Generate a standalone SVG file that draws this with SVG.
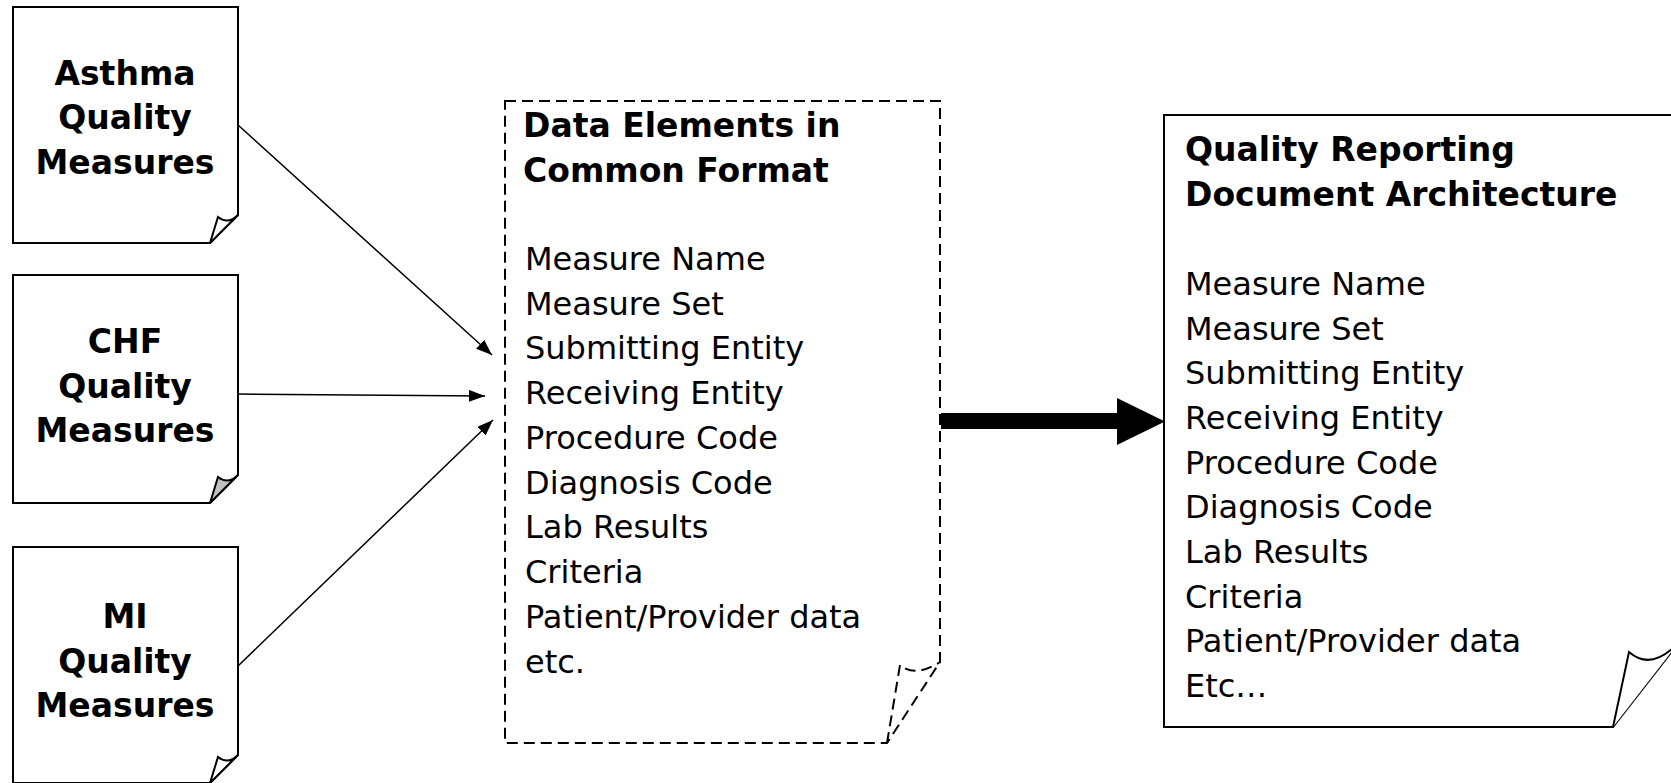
<svg xmlns="http://www.w3.org/2000/svg" width="1671" height="783" viewBox="0 0 1671 783">
<style>
.box{fill:#fff;stroke:#000;stroke-width:2;stroke-linejoin:miter}
.dash{fill:#fff;stroke:#000;stroke-width:2;stroke-dasharray:11 6}
.flap{fill:#fff;stroke:#000;stroke-width:2;stroke-linejoin:miter}
.flapg{fill:#c0c0c0;stroke:#000;stroke-width:2}
.flapd{fill:none;stroke:#000;stroke-width:2;stroke-dasharray:11 6}
.hb{font-family:"DejaVu Sans","Liberation Sans",sans-serif;font-weight:bold;font-size:33px;text-anchor:middle;fill:#000}
.tb{font-family:"DejaVu Sans","Liberation Sans",sans-serif;font-weight:bold;font-size:33px;fill:#000}
.tr{font-family:"DejaVu Sans","Liberation Sans",sans-serif;font-size:32px;fill:#000}
.conn{stroke:#000;stroke-width:1.5;fill:none}
</style>
<defs>
<marker id="ah" markerWidth="16" markerHeight="12" refX="16" refY="6" orient="auto" markerUnits="userSpaceOnUse">
<path d="M0,0 L16,6 L0,12 Z" fill="#000"/>
</marker>
</defs>
<rect width="1671" height="783" fill="#fff"/>
<g id="asthma">
<path class="box" d="M13,7 H238 V215 L210,243 H13 Z"/>
<path class="flap" d="M210,243 L218,217 Q228,225 238,215 Z"/>
<text class="hb" x="125" y="85">Asthma</text>
<text class="hb" x="125" y="129">Quality</text>
<text class="hb" x="125" y="174">Measures</text>
</g>
<g id="chf">
<path class="box" d="M13,275 H238 V475 L210,503 H13 Z"/>
<path class="flapg" d="M210,503 L218,477 Q228,485 238,475 Z"/>
<text class="hb" x="125" y="353">CHF</text>
<text class="hb" x="125" y="398">Quality</text>
<text class="hb" x="125" y="442">Measures</text>
</g>
<g id="mi">
<path class="box" d="M13,547 H238 V755 L210,783 H13 Z"/>
<path class="flap" d="M210,783 L218,757 Q228,765 238,755 Z"/>
<text class="hb" x="125" y="628">MI</text>
<text class="hb" x="125" y="673">Quality</text>
<text class="hb" x="125" y="717">Measures</text>
</g>
<g id="common">
<path class="dash" d="M505,101 H940 V662 L887,743 H505 Z"/>
<path class="flapd" d="M887,743 L900,665 Q915,678 940,662"/>
<text class="tb" x="523" y="137">Data Elements in</text>
<text class="tb" x="523" y="182">Common Format</text>
<text class="tr" x="525" y="270">Measure Name</text>
<text class="tr" x="525" y="315">Measure Set</text>
<text class="tr" x="525" y="359">Submitting Entity</text>
<text class="tr" x="525" y="404">Receiving Entity</text>
<text class="tr" x="525" y="449">Procedure Code</text>
<text class="tr" x="525" y="494">Diagnosis Code</text>
<text class="tr" x="525" y="538">Lab Results</text>
<text class="tr" x="525" y="583">Criteria</text>
<text class="tr" x="525" y="628">Patient/Provider data</text>
<text class="tr" x="525" y="673">etc.</text>
</g>
<g id="qrda">
<path class="box" d="M1164,115 H1680 V641 L1613,727 H1164 Z"/>
<path class="flap" d="M1613,727 L1629,652 Q1652,672 1680,641"/>
<text class="tb" x="1185" y="161">Quality Reporting</text>
<text class="tb" x="1185" y="206">Document Architecture</text>
<text class="tr" x="1185" y="295">Measure Name</text>
<text class="tr" x="1185" y="340">Measure Set</text>
<text class="tr" x="1185" y="384">Submitting Entity</text>
<text class="tr" x="1185" y="429">Receiving Entity</text>
<text class="tr" x="1185" y="474">Procedure Code</text>
<text class="tr" x="1185" y="518">Diagnosis Code</text>
<text class="tr" x="1185" y="563">Lab Results</text>
<text class="tr" x="1185" y="608">Criteria</text>
<text class="tr" x="1185" y="652">Patient/Provider data</text>
<text class="tr" x="1185" y="697">Etc…</text>
</g>
<g id="connectors">
<line class="conn" x1="238" y1="125" x2="492" y2="355" marker-end="url(#ah)"/>
<line class="conn" x1="238" y1="394" x2="485" y2="396" marker-end="url(#ah)"/>
<line class="conn" x1="238" y1="666" x2="493" y2="420" marker-end="url(#ah)"/>
<path d="M941,413 H1117 V398 L1165,421.5 L1117,445 V429 H941 Z" fill="#000"/>
</g>
</svg>
